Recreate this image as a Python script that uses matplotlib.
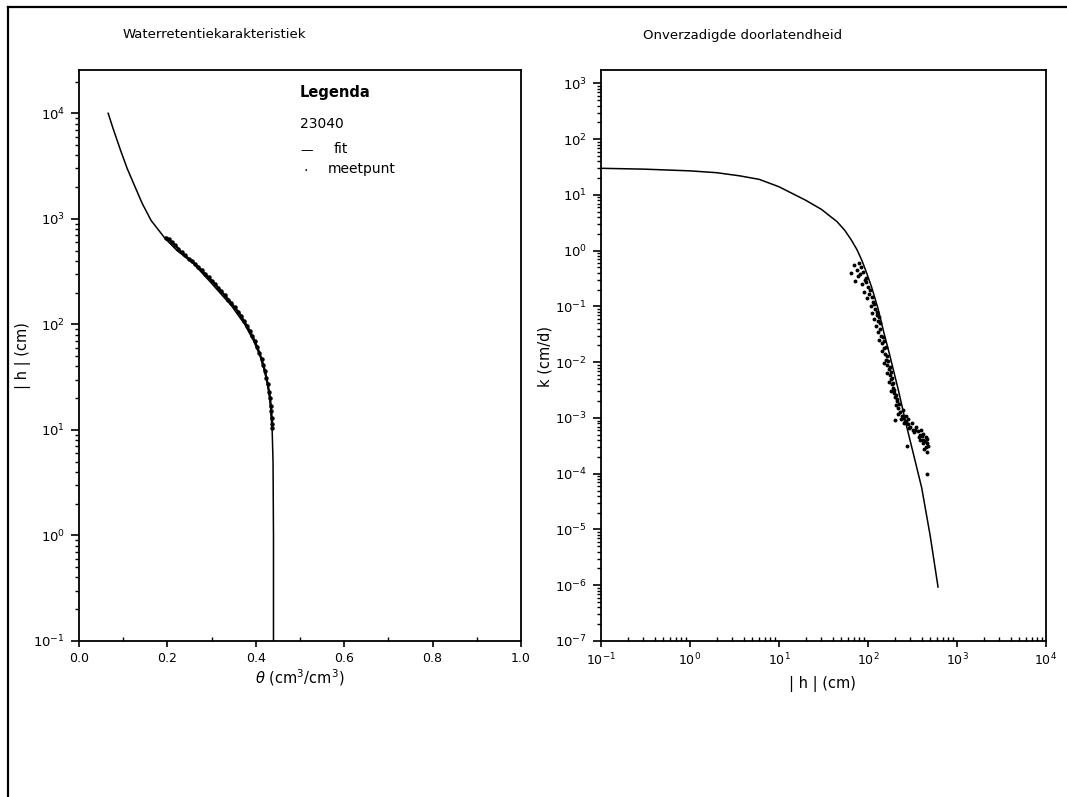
import matplotlib
matplotlib.use("Agg")
import matplotlib.pyplot as plt
from matplotlib.lines import Line2D
from matplotlib.ticker import LogLocator, NullFormatter, MultipleLocator, FormatStrFormatter

# ── data ──────────────────────────────────────────────────────────────────────
# retention fit: |h| (cm) vs theta
fit_h = [0.1, 1, 5, 10, 20, 30, 50, 70, 100, 150, 250, 380, 500, 650, 966,
         1400, 2140, 3000, 4460, 7400, 10000]
fit_theta = [0.440, 0.440, 0.439, 0.437, 0.432, 0.425, 0.410, 0.395, 0.375,
             0.345, 0.298, 0.258, 0.222, 0.195, 0.163, 0.143, 0.124, 0.109,
             0.094, 0.076, 0.066]

# retention measurements
meas_theta = [0.197, 0.203, 0.210, 0.218, 0.225, 0.232, 0.240, 0.248, 0.256,
              0.262, 0.270, 0.278, 0.285, 0.293, 0.300, 0.308, 0.315, 0.322,
              0.330, 0.338, 0.345, 0.352, 0.360, 0.367, 0.373, 0.380, 0.386,
              0.392, 0.398, 0.403, 0.408, 0.413, 0.417, 0.421, 0.424, 0.427,
              0.430, 0.432, 0.434, 0.435, 0.436, 0.437, 0.437]
meas_h = [660, 640, 600, 560, 520, 480, 450, 420, 395, 375, 350, 325, 300, 280,
          260, 240, 222, 205, 188, 172, 158, 145, 132, 120, 108, 97, 87, 78, 69,
          61, 54, 47, 41, 36, 31, 27, 23, 20, 17, 15, 13, 11.5, 10.5]

# conductivity fit: k (cm/d) vs |h| (cm)
kfit_h = [0.1, 0.3, 1, 2, 3.6, 6, 10, 20, 30, 45, 55, 65, 75, 85, 97, 110, 130,
          150, 177, 220, 272, 330, 401, 500, 612]
kfit_k = [30, 29, 27, 25, 22, 19, 14, 8, 5.5, 3.3, 2.3, 1.55, 1.05, 0.68, 0.39,
          0.22, 0.09, 0.035, 0.0127, 0.0031, 7e-4, 2e-4, 5.6e-5, 7.7e-6, 9.3e-7]

# conductivity measurements
kmeas_h = [70, 75, 80, 84, 78, 88, 92, 85, 96, 100, 90, 105, 110, 98, 115, 108,
           120, 112, 125, 118, 130, 122, 135, 128, 140, 134, 145, 150, 142, 155,
           160, 150, 165, 170, 162, 175, 180, 172, 185, 190, 182, 195, 200, 210,
           205, 220, 230, 215, 240, 250, 235, 260, 270, 255, 280, 300, 290, 320,
           340, 330, 360, 380, 370, 400, 420, 410, 440, 450, 430, 460, 470, 200,
           272, 460, 65, 72,
           82, 95, 103, 118, 126, 132, 138, 147, 152, 158, 165, 168, 178, 183,
           188, 193, 198, 207, 213, 225, 245, 265, 285, 310, 350, 390, 415, 445,
           465, 455, 380]
kmeas_k = [0.55, 0.45, 0.6, 0.5, 0.35, 0.42, 0.3, 0.25, 0.33, 0.22, 0.18, 0.2,
           0.15, 0.14, 0.12, 0.1, 0.09, 0.075, 0.07, 0.06, 0.055, 0.045, 0.04,
           0.035, 0.03, 0.025, 0.022, 0.018, 0.016, 0.014, 0.011, 0.0095, 0.009,
           0.0075, 0.0065, 0.006, 0.005, 0.0045, 0.004, 0.0035, 0.003, 0.0028,
           0.0024, 0.002, 0.0017, 0.0015, 0.0013, 0.0012, 0.0011, 0.001,
           0.00095, 0.0009, 0.00085, 0.0008, 0.00078, 0.0007, 0.00065, 0.00062,
           0.0006, 0.00055, 0.00058, 0.0005, 0.00045, 0.00048, 0.0004, 0.00035,
           0.00038, 0.0003, 0.00028, 0.00025, 0.00032, 0.00093, 0.00032, 0.0001,
           0.4, 0.28,
           0.38, 0.27, 0.17, 0.11, 0.08, 0.065, 0.05, 0.028, 0.024, 0.019,
           0.013, 0.0105, 0.0082, 0.0068, 0.0052, 0.0042, 0.0032, 0.0026,
           0.0022, 0.0018, 0.0014, 0.0011, 0.00095, 0.0008, 0.00068, 0.00062,
           0.00052, 0.00045, 0.00042, 0.00036, 0.0004]

W, H = 1067, 797
plt.rcParams["font.family"] = ["DejaVu Sans"]


def frac_box(x0, y0, x1, y1):
    """pixel box (top-left origin) -> figure-fraction rect"""
    return [x0 / W, 1 - y1 / H, (x1 - x0) / W, (y1 - y0) / H]


def style_axis(ax):
    for s in ax.spines.values():
        s.set_linewidth(1.3)
    ax.tick_params(axis="y", which="major", direction="out", length=6, width=1.2,
                   labelsize=9.5, pad=4)
    ax.tick_params(axis="y", which="minor", direction="out", length=3, width=1.0)
    ax.tick_params(axis="x", which="major", direction="out", length=4, width=1.2,
                   labelsize=9, pad=4)
    ax.tick_params(axis="x", which="minor", direction="in", length=3, width=1.0)


fig = plt.figure(figsize=(W / 100, H / 100), dpi=100)

# page frame (left + top edge)
fig.add_artist(Line2D([8 / W, 8 / W], [0, 1 - 7 / H], color="black", lw=1.6))
fig.add_artist(Line2D([8 / W, 1], [1 - 7 / H, 1 - 7 / H], color="black", lw=1.6))

# ── left: retention ───────────────────────────────────────────────────────────
ax1 = fig.add_axes(frac_box(79, 70, 521, 641))
ax1.plot(fit_theta, fit_h, color="black", lw=1.1)
ax1.plot(meas_theta, meas_h, ls="-", lw=1.6, marker="o", ms=2.2, color="black")
ax1.set_yscale("log")
ax1.set_xlim(0, 1)
ax1.set_ylim(0.1, 10 ** 4.41)
ax1.xaxis.set_major_locator(MultipleLocator(0.2))
ax1.xaxis.set_minor_locator(MultipleLocator(0.1))
ax1.xaxis.set_major_formatter(FormatStrFormatter("%.1f"))
ax1.yaxis.set_major_locator(LogLocator(base=10, numticks=20))
ax1.yaxis.set_minor_locator(LogLocator(base=10, subs=range(2, 10), numticks=20))
ax1.yaxis.set_minor_formatter(NullFormatter())
style_axis(ax1)

ax1.text(0.50, 0.96, "Legenda", transform=ax1.transAxes, fontsize=10.5,
         fontweight="bold", va="center")
ax1.text(0.50, 0.906, "23040", transform=ax1.transAxes, fontsize=10, va="center")
ax1.text(0.50, 0.859, "—", transform=ax1.transAxes, fontsize=9, va="center")
ax1.text(0.575, 0.862, "fit", transform=ax1.transAxes, fontsize=10, va="center")
ax1.text(0.507, 0.830, ".", transform=ax1.transAxes, fontsize=10, va="center")
ax1.text(0.563, 0.826, "meetpunt", transform=ax1.transAxes, fontsize=10,
         va="center")

# ── right: conductivity ───────────────────────────────────────────────────────
ax2 = fig.add_axes(frac_box(601, 70, 1046, 641))
ax2.plot(kfit_h, kfit_k, color="black", lw=1.1)
ax2.plot(kmeas_h, kmeas_k, ls="none", marker="o", ms=1.8, color="black")
ax2.set_xscale("log")
ax2.set_yscale("log")
ax2.set_xlim(0.1, 1e4)
ax2.set_ylim(1e-7, 10 ** 3.24)
for axis in (ax2.xaxis, ax2.yaxis):
    axis.set_major_locator(LogLocator(base=10, numticks=20))
    axis.set_minor_locator(LogLocator(base=10, subs=range(2, 10), numticks=20))
    axis.set_minor_formatter(NullFormatter())
style_axis(ax2)

# ── titles and axis labels ────────────────────────────────────────────────────
fig.text(123 / W, 1 - 35 / H, "Waterretentiekarakteristiek", fontsize=9.5,
         va="center", ha="left")
fig.text(643 / W, 1 - 35 / H, "Onverzadigde doorlatendheid", fontsize=9.5,
         va="center", ha="left")
fig.text(23 / W, 1 - 356 / H, "| h | (cm)", rotation=90, fontsize=10.5,
         va="center", ha="center")
fig.text(545 / W, 1 - 356 / H, "k (cm/d)", rotation=90, fontsize=10.5,
         va="center", ha="center")
fig.text(300 / W, 1 - 678 / H, r"$\theta$ (cm$^3$/cm$^3$)", fontsize=10.5,
         va="center", ha="center")
fig.text(822 / W, 1 - 684 / H, "| h | (cm)", fontsize=10.5, va="center",
         ha="center")

fig.savefig("out.png", dpi=100)
